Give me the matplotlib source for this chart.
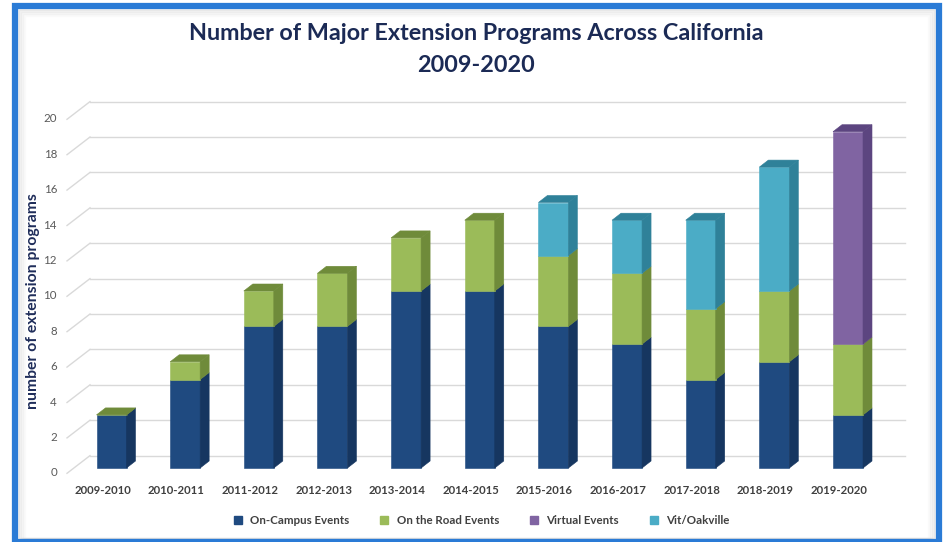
import matplotlib.pyplot as plt
from matplotlib.patches import Rectangle, Polygon
from matplotlib.lines import Line2D

# Data
years = ["2009-2010", "2010-2011", "2011-2012", "2012-2013", "2013-2014", "2014-2015",
         "2015-2016", "2016-2017", "2017-2018", "2018-2019", "2019-2020"]
on_campus = [3, 5, 8, 8, 10, 10, 8, 7, 5, 6, 3]
on_road = [0, 1, 2, 3, 3, 4, 4, 4, 4, 4, 4]
virtual = [None, None, None, None, None, None, None, None, None, None, 12]
vit_oakville = [None, None, None, None, None, None, 3, 3, 5, 7, None]

series_names = ["On-Campus Events", "On the Road Events", "Virtual Events", "Vit/Oakville"]
series_vals = [on_campus, on_road, virtual, vit_oakville]
front_cols = ["#1f4a80", "#9bbb59", "#8064a2", "#4bacc6"]
side_cols = ["#163660", "#6f8b3a", "#5c4580", "#2f8199"]

y_ticks = list(range(0, 21, 2))

W, H = 945, 542
fig = plt.figure(figsize=(W / 100, H / 100), dpi=100)
fig.patch.set_facecolor("white")

# soft inner shadow and blue frame
for k, a in enumerate([0.05, 0.04, 0.03, 0.02]):
    fig.add_artist(Rectangle(((18 + k * 2) / W, 3 / H), (917 - k * 4) / W, (530 - k * 2) / H,
                             transform=fig.transFigure, fill=False,
                             edgecolor="black", alpha=a, linewidth=2.5))
fig.add_artist(Rectangle((15 / W, 0), 924 / W, 536 / H, transform=fig.transFigure,
                         fill=False, edgecolor="#2a7bd6", linewidth=4.5))

# axes laid out so one category = 73.65 px and one unit = 17.7 px
px_x, px_y = 73.65, 17.7
x0_px, y0_px = 111.5, 468
left_px, right_px, top_px, bot_px = 40, 925, 90, 505
ax = fig.add_axes([left_px / W, 1 - bot_px / H, (right_px - left_px) / W, (bot_px - top_px) / H])
ax.set_xlim((left_px - x0_px) / px_x, (right_px - x0_px) / px_x)
ax.set_ylim((y0_px - bot_px) / px_y, (y0_px - top_px) / px_y)
ax.axis("off")

back_dy = 0.7
back_x0, back_x1 = (90 - x0_px) / px_x, (905 - x0_px) / px_x
diag_x0 = (67 - x0_px) / px_x
for v in y_ticks:
    ax.plot([back_x0, back_x1], [v + back_dy, v + back_dy], color="#d9d9d9", lw=1, zorder=1)
    ax.plot([diag_x0, back_x0], [v - 0.3, v + back_dy], color="#d9d9d9", lw=1, zorder=1)
    ax.text((57 - x0_px) / px_x, v - 0.28, str(v), ha="right", va="center",
            fontsize=8.3, color="#595959", family="Lato")

bw = 30 / px_x
dx, dy = 9 / px_x, 7 / px_y
xs = list(range(len(years)))

for i in xs:
    bottom = 0
    top_col = None
    for vals, fc, sc in zip(series_vals, front_cols, side_cols):
        v = vals[i]
        if v is None:
            continue
        xr = i + bw / 2
        ax.bar(i, v, bw, bottom=bottom, color=fc, edgecolor=fc, linewidth=0.4, zorder=3)
        ax.add_patch(Polygon([(xr, bottom), (xr + dx, bottom + dy), (xr + dx, bottom + v + dy),
                              (xr, bottom + v)], closed=True, facecolor=sc, edgecolor=sc,
                             linewidth=0.4, zorder=3))
        bottom += v
        top_col = sc
    ax.add_patch(Polygon([(i - bw / 2, bottom), (i + bw / 2, bottom), (i + bw / 2 + dx, bottom + dy),
                          (i - bw / 2 + dx, bottom + dy)], closed=True, facecolor=top_col,
                         edgecolor=top_col, linewidth=0.4, zorder=3))
    ax.text(i - 0.12, (y0_px - 491) / px_y, years[i], ha="center", va="center",
            fontsize=8.2, fontweight="bold", color="#404040", family="Lato")

fig.text(33 / W, 1 - 301 / H, "number of extension programs", rotation=90, ha="center",
         va="center", fontsize=11.3, fontweight="bold", color="#1f2d5a", family="Lato")

fig.text(476 / W, 1 - 33 / H, "Number of Major Extension Programs Across California",
         ha="center", va="center", fontsize=16.8, fontweight="bold", color="#1b2a55", family="Lato")
fig.text(476 / W, 1 - 66 / H, "2009-2020", ha="center", va="center", fontsize=16.8,
         fontweight="bold", color="#1b2a55", family="Lato")

handles = [Line2D([], [], marker="s", linestyle="none", markersize=6, color=c) for c in front_cols]
leg = fig.legend(handles, series_names, loc="center", bbox_to_anchor=(478 / W, 1 - 521 / H),
                 ncol=4, frameon=False, handletextpad=0.1, columnspacing=2.0,
                 prop={"family": "Lato", "size": 8.3, "weight": "bold"})
for t in leg.get_texts():
    t.set_color("#404040")

fig.savefig("out.png", dpi=100)
